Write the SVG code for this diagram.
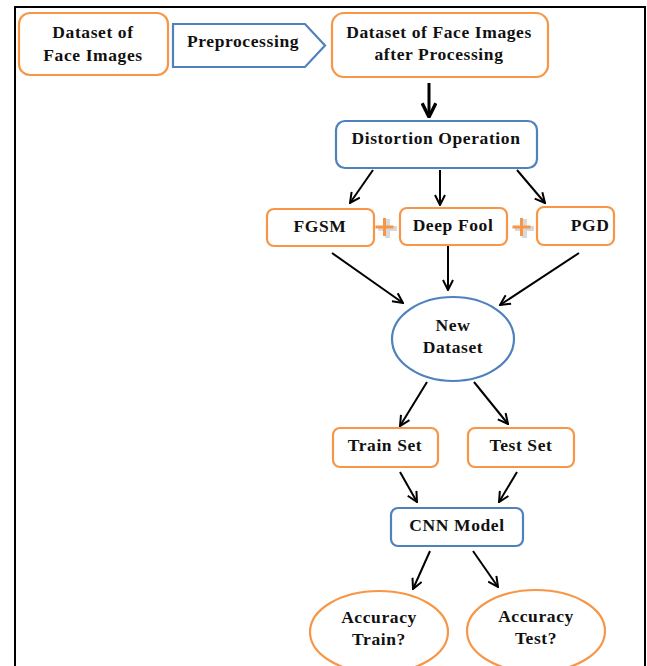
<svg xmlns="http://www.w3.org/2000/svg" width="647" height="666" viewBox="0 0 647 666">
<defs>
<marker id="ah" viewBox="0 0 12 12" refX="11" refY="6" markerWidth="12" markerHeight="12" markerUnits="userSpaceOnUse" orient="auto">
<path d="M1,1 L11,6 L1,11" fill="none" stroke="#000" stroke-width="2"/>
</marker>
<marker id="ahb" viewBox="0 0 14 14" refX="13" refY="7" markerWidth="16" markerHeight="16" markerUnits="userSpaceOnUse" orient="auto">
<path d="M1,1 L13,7 L1,13" fill="none" stroke="#000" stroke-width="3"/>
</marker>
</defs>
<style>
.o{fill:#fff;stroke:#F79646;stroke-width:2.2}
.b{fill:#fff;stroke:#4F81BD;stroke-width:2.2}
text{font-family:"Liberation Serif","Times New Roman",serif;font-weight:bold;font-size:17.5px;letter-spacing:0.6px;fill:#111;text-anchor:middle}
.c line{stroke:#000;stroke-width:2;marker-end:url(#ah)}
.plus{fill:#F79646}
.plsh{fill:#d9d9d9}
</style>
<rect x="0" y="0" width="647" height="666" fill="#fff"/>
<path d="M15,666 L15,7 L645,7 L645,666" fill="none" stroke="#000" stroke-width="2"/>

<g id="n1"><rect class="o" x="19" y="13" width="149" height="62" rx="11"/><text x="93" y="38">Dataset of</text><text x="93" y="61">Face Images</text></g>
<g id="n2"><path class="b" d="M173,24 L305,24 L325,45.5 L305,67 L173,67 Z"/><text x="243" y="47">Preprocessing</text></g>
<g id="n3"><rect class="o" x="332" y="13" width="216" height="64" rx="12"/><text x="439" y="38">Dataset of Face Images</text><text x="439" y="60">after Processing</text></g>
<g id="n4"><rect class="b" x="336" y="121" width="201" height="47" rx="9"/><text x="436" y="144">Distortion Operation</text></g>
<g id="n5"><rect class="o" x="267" y="209" width="107" height="37" rx="7"/><text x="320" y="232">FGSM</text></g>
<g id="n6"><rect class="o" x="400" y="208" width="107" height="37" rx="7"/><text x="453" y="231">Deep Fool</text></g>
<g id="n7"><rect class="o" x="537" y="207" width="77" height="38" rx="7"/><text x="590" y="231">PGD</text></g>
<g id="plus1"><path class="plsh" d="M385,219 h5 v7 h7 v5 h-7 v7 h-5 v-7 h-7 v-5 h7 Z"/><path class="plus" d="M383,218 h3 v7.5 h7.5 v3 h-7.5 v7.5 h-3 v-7.5 h-7.5 v-3 h7.5 Z"/></g>
<g id="plus2"><path class="plsh" d="M522,219 h5 v7 h7 v5 h-7 v7 h-5 v-7 h-7 v-5 h7 Z"/><path class="plus" d="M520,218 h3 v7.5 h7.5 v3 h-7.5 v7.5 h-3 v-7.5 h-7.5 v-3 h7.5 Z"/></g>
<g id="n8"><ellipse class="b" cx="453" cy="339" rx="61" ry="42"/><text x="453" y="331">New</text><text x="453" y="353">Dataset</text></g>
<g id="n9"><rect class="o" x="333" y="428" width="105" height="39" rx="7"/><text x="385" y="451">Train Set</text></g>
<g id="n10"><rect class="o" x="468" y="428" width="106" height="39" rx="7"/><text x="521" y="451">Test Set</text></g>
<g id="n11"><rect class="b" x="391" y="508" width="132" height="38" rx="7"/><text x="457" y="531">CNN Model</text></g>
<g id="n12"><ellipse class="o" cx="379" cy="632" rx="69" ry="41"/><text x="379" y="623">Accuracy</text><text x="379" y="645">Train?</text></g>
<g id="n13"><ellipse class="o" cx="536" cy="631" rx="69" ry="41"/><text x="536" y="622">Accuracy</text><text x="536" y="644">Test?</text></g>

<g class="c" id="connectors">
<line x1="429" y1="83" x2="429" y2="117" style="stroke-width:3;marker-end:url(#ahb)"/>
<line x1="373" y1="170" x2="350" y2="203"/>
<line x1="440" y1="170" x2="440" y2="205"/>
<line x1="517" y1="170" x2="545" y2="203"/>
<line x1="332" y1="253" x2="403" y2="303"/>
<line x1="448" y1="246" x2="448" y2="290"/>
<line x1="579" y1="253" x2="500" y2="305"/>
<line x1="427" y1="382" x2="400" y2="426"/>
<line x1="474" y1="382" x2="508" y2="424"/>
<line x1="400" y1="472" x2="417" y2="502"/>
<line x1="517" y1="472" x2="499" y2="502"/>
<line x1="430" y1="551" x2="413" y2="589"/>
<line x1="473" y1="551" x2="498" y2="587"/>
</g>
</svg>
